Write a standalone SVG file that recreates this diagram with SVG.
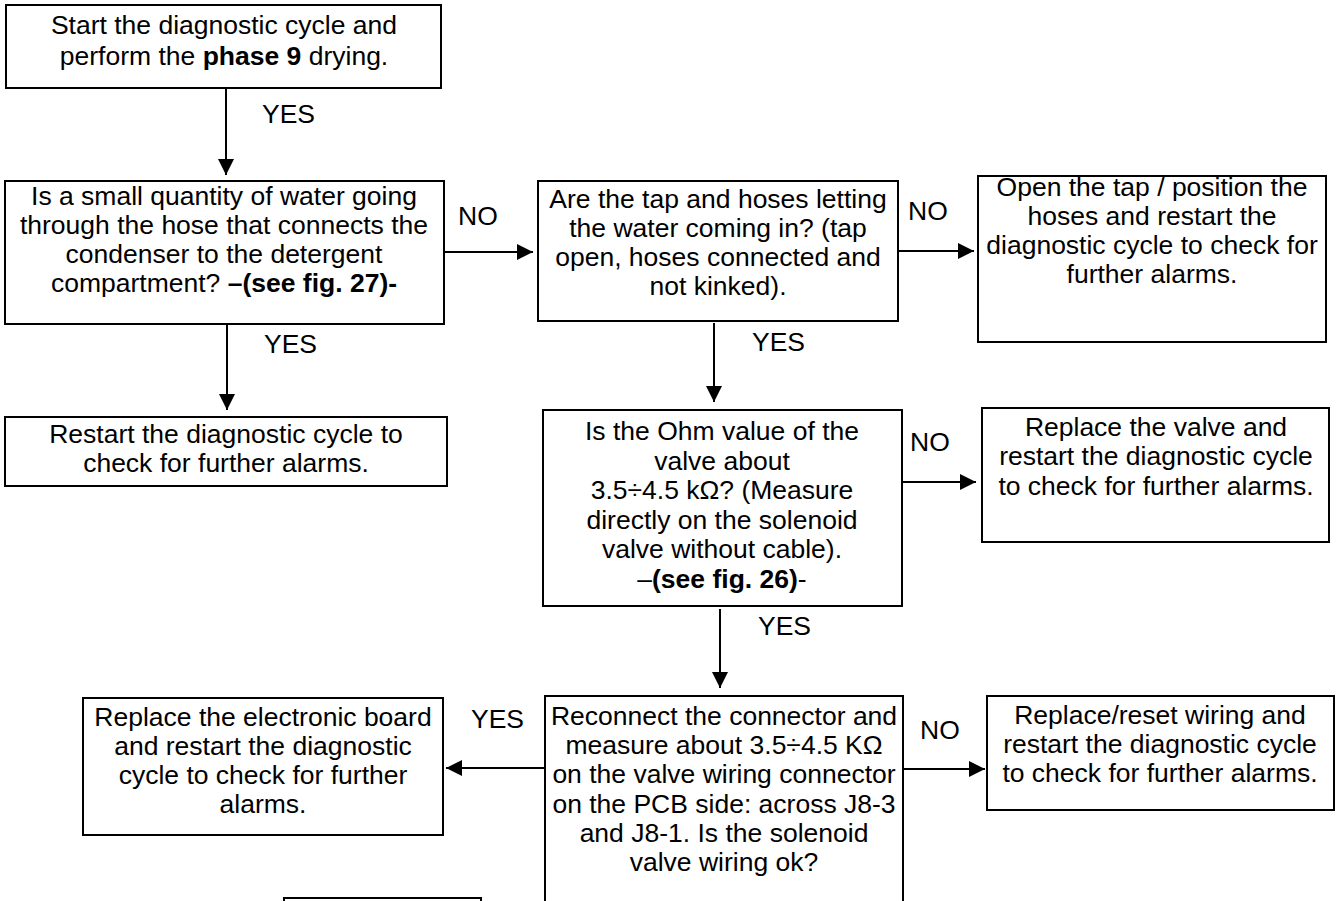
<svg xmlns="http://www.w3.org/2000/svg" width="1340" height="901" viewBox="0 0 1340 901">
<style>
.box{fill:#fff;stroke:#000;stroke-width:2}
.t{font-family:"Liberation Sans",Arial,sans-serif;font-size:26.5px;fill:#000;text-anchor:middle}
.l{font-family:"Liberation Sans",Arial,sans-serif;font-size:26.5px;fill:#000}
.b{font-weight:bold}
.c{fill:none;stroke:#000;stroke-width:2}
</style>
<defs>
<marker id="ah" viewBox="0 0 16 16" markerWidth="16" markerHeight="16" refX="16" refY="8" orient="auto" markerUnits="userSpaceOnUse">
<path d="M0,0 L16,8 L0,16 Z" fill="#000"/>
</marker>
</defs>
<rect width="1340" height="901" fill="#fff"/>

<g id="n1">
<rect class="box" x="6" y="5" width="435" height="83"/>
<text class="t" x="224" y="34">Start the diagnostic cycle and</text>
<text class="t" x="224" y="65">perform the <tspan class="b">phase 9</tspan> drying.</text>
</g>

<g id="n2">
<rect class="box" x="5" y="181" width="439" height="143"/>
<text class="t" x="224" y="205">Is a small quantity of water going</text>
<text class="t" x="224" y="234">through the hose that connects the</text>
<text class="t" x="224" y="263">condenser to the detergent</text>
<text class="t" x="224" y="292">compartment? <tspan class="b">–(see fig. 27)-</tspan></text>
</g>

<g id="n3">
<rect class="box" x="538" y="181" width="360" height="140"/>
<text class="t" x="718" y="208">Are the tap and hoses letting</text>
<text class="t" x="718" y="237">the water coming in? (tap</text>
<text class="t" x="718" y="266">open, hoses connected and</text>
<text class="t" x="718" y="295">not kinked).</text>
</g>

<g id="n4">
<rect class="box" x="978" y="176" width="348" height="166"/>
<text class="t" x="1152" y="196">Open the tap / position the</text>
<text class="t" x="1152" y="225">hoses and restart the</text>
<text class="t" x="1152" y="254">diagnostic cycle to check for</text>
<text class="t" x="1152" y="283">further alarms.</text>
</g>

<g id="n5">
<rect class="box" x="5" y="417" width="442" height="69"/>
<text class="t" x="226" y="443">Restart the diagnostic cycle to</text>
<text class="t" x="226" y="472">check for further alarms.</text>
</g>

<g id="n6">
<rect class="box" x="543" y="410" width="359" height="196"/>
<text class="t" x="722" y="440">Is the Ohm value of the</text>
<text class="t" x="722" y="469.5">valve about</text>
<text class="t" x="722" y="499">3.5÷4.5 kΩ? (Measure</text>
<text class="t" x="722" y="528.5">directly on the solenoid</text>
<text class="t" x="722" y="558">valve without cable).</text>
<text class="t" x="722" y="588">–<tspan class="b">(see fig. 26)</tspan>-</text>
</g>

<g id="n7">
<rect class="box" x="982" y="408" width="347" height="134"/>
<text class="t" x="1156" y="436">Replace the valve and</text>
<text class="t" x="1156" y="465">restart the diagnostic cycle</text>
<text class="t" x="1156" y="495">to check for further alarms.</text>
</g>

<g id="n8">
<rect class="box" x="545" y="696" width="358" height="230"/>
<text class="t" x="724" y="725">Reconnect the connector and</text>
<text class="t" x="724" y="754">measure about 3.5÷4.5 KΩ</text>
<text class="t" x="724" y="783">on the valve wiring connector</text>
<text class="t" x="724" y="813">on the PCB side: across J8-3</text>
<text class="t" x="724" y="842">and J8-1. Is the solenoid</text>
<text class="t" x="724" y="871">valve wiring ok?</text>
</g>

<g id="n9">
<rect class="box" x="83" y="698" width="360" height="137"/>
<text class="t" x="263" y="726">Replace the electronic board</text>
<text class="t" x="263" y="755">and restart the diagnostic</text>
<text class="t" x="263" y="784">cycle to check for further</text>
<text class="t" x="263" y="813">alarms.</text>
</g>

<g id="n10">
<rect class="box" x="987" y="696" width="347" height="114"/>
<text class="t" x="1160" y="724">Replace/reset wiring and</text>
<text class="t" x="1160" y="753">restart the diagnostic cycle</text>
<text class="t" x="1160" y="782">to check for further alarms.</text>
</g>

<g id="n11">
<rect class="box" x="284" y="898" width="197" height="30"/>
</g>

<g id="connectors">
<line class="c" x1="226" y1="88" x2="226" y2="175" marker-end="url(#ah)"/>
<line class="c" x1="444" y1="252" x2="533" y2="252" marker-end="url(#ah)"/>
<line class="c" x1="898" y1="251" x2="974" y2="251" marker-end="url(#ah)"/>
<line class="c" x1="227" y1="324" x2="227" y2="410" marker-end="url(#ah)"/>
<line class="c" x1="714" y1="323" x2="714" y2="402" marker-end="url(#ah)"/>
<line class="c" x1="902" y1="482" x2="976" y2="482" marker-end="url(#ah)"/>
<line class="c" x1="720" y1="609" x2="720" y2="688" marker-end="url(#ah)"/>
<line class="c" x1="544" y1="768" x2="446" y2="768" marker-end="url(#ah)"/>
<line class="c" x1="903" y1="769" x2="985" y2="769" marker-end="url(#ah)"/>
<text class="l" x="262" y="123">YES</text>
<text class="l" x="458" y="225">NO</text>
<text class="l" x="908" y="220">NO</text>
<text class="l" x="264" y="353">YES</text>
<text class="l" x="752" y="351">YES</text>
<text class="l" x="910" y="451">NO</text>
<text class="l" x="758" y="635">YES</text>
<text class="l" x="471" y="728">YES</text>
<text class="l" x="920" y="739">NO</text>
</g>
</svg>
